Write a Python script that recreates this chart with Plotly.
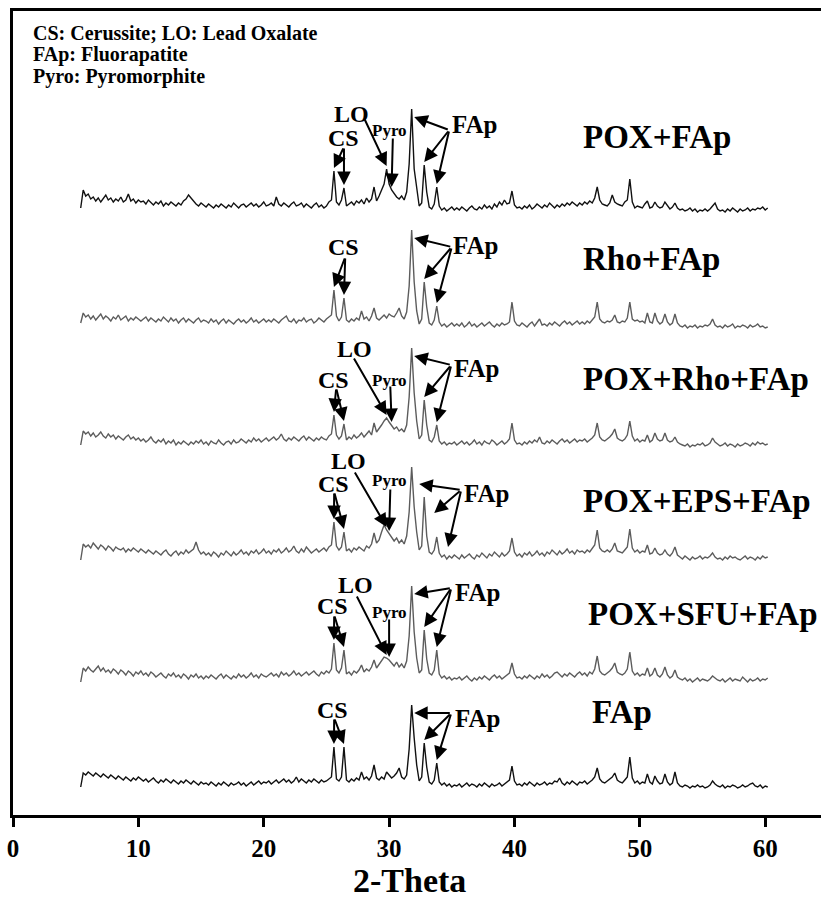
import numpy as np
import plotly.graph_objects as go

# ---------------- data (2-theta grid start/step and intensities) -------------
THETA_START = 5.4
THETA_STEP = 0.2

pox_fap = [
    6, 24, 18, 20, 15, 17, 13, 16, 12, 15, 19, 14, 16, 12, 15, 13, 17, 12, 14, 20, 13, 15, 11, 14, 12,
    13, 10, 14, 11, 9, 12, 10, 13, 8, 11, 9, 12, 10, 8, 11, 9, 13, 15, 19, 16, 12, 10, 8, 11, 9,
    7, 10, 8, 6, 9, 7, 10, 8, 6, 9, 7, 11, 8, 6, 9, 10, 7, 9, 11, 8, 10, 7, 9, 12, 8,
    9, 11, 8, 17, 10, 8, 11, 9, 7, 10, 12, 8, 9, 11, 7, 10, 8, 6, 9, 11, 7, 9, 6, 8, 12,
    14, 43, 12, 9, 14, 26, 8, 10, 12, 9, 13, 11, 14, 10, 16, 12, 15, 27, 13, 18, 24, 30, 45, 30, 24,
    20, 17, 15, 18, 14, 22, 50, 105, 45, 24, 8, 11, 49, 22, 7, 5, 10, 27, 8, 4, 6, 3, 5, 7, 4,
    6, 4, 7, 5, 3, 6, 8, 5, 4, 7, 5, 9, 6, 8, 5, 10, 7, 12, 9, 14, 10, 11, 23, 9, 6,
    7, 5, 8, 6, 9, 5, 7, 10, 8, 6, 9, 7, 11, 8, 6, 9, 7, 10, 8, 11, 9, 12, 10, 8, 11,
    9, 12, 10, 13, 11, 16, 27, 14, 10, 9, 8, 11, 19, 12, 10, 9, 8, 12, 14, 35, 12, 6, 8, 7, 6,
    10, 13, 6, 7, 12, 8, 6, 7, 12, 8, 5, 7, 11, 6, 4, 5, 3, 4, 6, 3, 5, 2, 4, 3, 5,
    3, 5, 8, 11, 5, 3, 4, 2, 5, 3, 6, 4, 2, 5, 3, 4, 6, 3, 5, 4, 6, 5, 7, 4, 6,
]
rho_fap = [
    8, 18, 14, 16, 12, 15, 11, 14, 17, 12, 15, 13, 10, 14, 12, 16, 11, 13, 15, 10, 13, 11, 14, 12, 10,
    12, 14, 10, 13, 11, 9, 12, 10, 14, 11, 9, 13, 10, 12, 8, 11, 13, 9, 12, 10, 8, 11, 13, 9, 11,
    10, 8, 12, 9, 11, 7, 10, 12, 8, 11, 9, 7, 10, 12, 9, 11, 8, 10, 13, 9, 11, 8, 10, 12, 9,
    11, 9, 12, 10, 8, 11, 13, 15, 10, 9, 12, 8, 11, 10, 13, 9, 11, 12, 8, 10, 13, 11, 9, 12, 14,
    16, 41, 15, 10, 14, 33, 11, 9, 12, 10, 13, 11, 20, 12, 14, 10, 15, 23, 13, 11, 14, 16, 13, 17, 15,
    14, 18, 23, 15, 12, 19, 45, 101, 49, 20, 7, 12, 49, 24, 8, 6, 11, 25, 9, 5, 7, 4, 6, 8, 5,
    7, 5, 8, 4, 6, 9, 5, 7, 4, 6, 8, 5, 7, 9, 6, 4, 7, 5, 8, 6, 7, 9, 29, 10, 6,
    5, 8, 6, 4, 7, 9, 5, 8, 12, 6, 7, 5, 8, 6, 9, 7, 5, 8, 10, 7, 9, 6, 8, 10, 7,
    9, 7, 10, 8, 11, 14, 29, 12, 9, 8, 10, 9, 11, 16, 9, 8, 10, 9, 13, 29, 12, 10, 11, 9, 10,
    8, 18, 9, 8, 18, 10, 7, 9, 17, 9, 6, 8, 17, 8, 5, 4, 6, 3, 5, 4, 6, 3, 5, 4, 6,
    5, 7, 12, 6, 4, 5, 3, 6, 4, 5, 7, 3, 5, 4, 6, 5, 3, 6, 4, 5, 7, 4, 5, 3, 4,
]
pox_rho_fap = [
    4, 18, 15, 17, 13, 16, 12, 14, 17, 13, 11, 15, 12, 14, 10, 13, 11, 9, 12, 14, 10, 12, 9, 11, 8,
    10, 7, 9, 12, 8, 6, 9, 7, 10, 5, 8, 6, 9, 4, 7, 5, 8, 6, 4, 7, 5, 8, 6, 9, 5,
    7, 4, 8, 6, 5, 9, 6, 4, 7, 8, 5, 9, 6, 7, 10, 8, 6, 9, 7, 11, 8, 10, 7, 9, 11,
    8, 10, 12, 9, 11, 15, 10, 8, 11, 9, 12, 10, 8, 11, 13, 9, 12, 10, 8, 11, 9, 12, 10, 9, 13,
    15, 34, 14, 10, 13, 25, 9, 12, 10, 14, 11, 13, 16, 12, 15, 18, 14, 26, 17, 20, 24, 28, 31, 27, 24,
    20, 22, 18, 20, 17, 24, 52, 101, 56, 28, 10, 14, 49, 24, 9, 7, 12, 24, 8, 5, 7, 4, 6, 5, 7,
    4, 6, 8, 5, 7, 4, 6, 9, 5, 7, 4, 8, 6, 5, 9, 7, 4, 6, 8, 5, 7, 10, 26, 9, 5,
    6, 4, 7, 5, 8, 6, 9, 7, 12, 6, 5, 8, 6, 9, 7, 5, 8, 10, 7, 9, 6, 8, 10, 7, 9,
    8, 10, 7, 9, 11, 14, 26, 12, 9, 8, 10, 12, 15, 20, 11, 9, 8, 10, 14, 28, 13, 8, 10, 7, 9,
    8, 14, 7, 9, 16, 10, 8, 9, 16, 9, 7, 8, 12, 7, 5, 4, 3, 5, 2, 4, 3, 5, 4, 6, 3,
    4, 6, 11, 7, 5, 3, 4, 6, 3, 5, 4, 2, 5, 3, 4, 6, 5, 3, 6, 4, 7, 5, 6, 4, 5,
]
pox_eps_fap = [
    2, 18, 15, 17, 14, 19, 16, 13, 17, 15, 12, 16, 14, 11, 15, 13, 12, 14, 10, 13, 11, 14, 12, 10, 13,
    11, 9, 12, 10, 8, 11, 9, 7, 10, 12, 8, 6, 9, 11, 7, 10, 8, 12, 9, 11, 13, 20, 12, 8, 10,
    7, 9, 6, 10, 8, 5, 9, 7, 11, 8, 6, 10, 7, 9, 12, 8, 10, 7, 11, 9, 12, 8, 10, 13, 9,
    11, 8, 12, 10, 13, 9, 11, 14, 10, 12, 16, 11, 9, 13, 10, 15, 12, 9, 11, 13, 10, 12, 14, 11, 15,
    17, 40, 16, 12, 15, 30, 11, 13, 10, 14, 12, 15, 13, 11, 16, 14, 18, 29, 19, 22, 30, 37, 32, 28, 25,
    21, 24, 19, 22, 18, 26, 50, 95, 55, 30, 12, 16, 65, 26, 10, 8, 12, 25, 9, 5, 7, 3, 6, 4, 7,
    5, 3, 7, 4, 6, 8, 5, 3, 7, 5, 9, 6, 4, 8, 6, 10, 7, 5, 9, 6, 8, 11, 24, 10, 6,
    8, 5, 9, 7, 10, 6, 8, 11, 7, 9, 6, 10, 8, 12, 9, 7, 11, 8, 10, 13, 9, 11, 8, 12, 10,
    11, 9, 12, 10, 13, 17, 32, 14, 11, 10, 12, 10, 13, 19, 11, 10, 9, 12, 15, 33, 14, 10, 12, 9, 11,
    10, 17, 8, 9, 14, 9, 7, 8, 12, 8, 6, 9, 15, 7, 5, 3, 6, 4, 2, 5, 3, 4, 6, 3, 5,
    4, 6, 9, 5, 3, 4, 2, 5, 3, 6, 4, 5, 3, 2, 4, 6, 3, 5, 4, 2, 5, 3, 6, 4, 5,
]
pox_sfu_fap = [
    2, 16, 13, 17, 14, 12, 15, 18, 13, 16, 12, 14, 11, 15, 13, 10, 14, 12, 9, 13, 11, 8, 12, 10, 13,
    9, 11, 8, 12, 10, 7, 9, 11, 8, 6, 10, 8, 11, 7, 9, 6, 10, 8, 5, 9, 7, 10, 6, 8, 5,
    8, 6, 9, 7, 5, 8, 10, 6, 9, 7, 5, 8, 6, 10, 7, 9, 6, 8, 11, 7, 9, 6, 10, 8, 7,
    9, 11, 8, 10, 7, 12, 9, 11, 8, 10, 13, 9, 11, 8, 10, 12, 9, 11, 13, 10, 8, 12, 10, 13, 11,
    15, 41, 14, 11, 16, 34, 10, 12, 9, 13, 11, 14, 19, 12, 15, 13, 17, 24, 16, 20, 23, 27, 26, 24, 21,
    18, 22, 17, 20, 16, 23, 48, 98, 52, 26, 11, 14, 54, 25, 11, 9, 14, 34, 10, 6, 8, 5, 7, 4, 6,
    5, 7, 4, 6, 8, 5, 3, 6, 4, 7, 5, 8, 6, 4, 7, 9, 6, 8, 5, 7, 9, 11, 21, 10, 6,
    7, 5, 8, 6, 9, 7, 5, 8, 6, 10, 7, 9, 6, 8, 11, 12, 9, 7, 10, 8, 11, 9, 7, 10, 12,
    9, 11, 8, 12, 10, 15, 28, 13, 10, 9, 11, 13, 16, 21, 12, 10, 9, 11, 15, 32, 13, 9, 11, 8, 10,
    9, 16, 8, 10, 16, 9, 7, 10, 17, 9, 6, 8, 14, 7, 5, 4, 6, 3, 5, 2, 4, 6, 3, 5, 4,
    3, 5, 8, 6, 4, 3, 5, 2, 4, 6, 3, 5, 4, 3, 7, 4, 2, 5, 3, 4, 6, 3, 5, 4, 6,
]
fap = [
    2, 16, 14, 17, 15, 13, 16, 14, 12, 15, 13, 11, 14, 12, 10, 13, 11, 9, 12, 10, 8, 11, 9, 12, 10,
    8, 10, 7, 9, 11, 8, 6, 9, 7, 10, 8, 6, 9, 7, 5, 8, 6, 9, 7, 5, 8, 6, 4, 7, 5,
    6, 4, 7, 5, 3, 6, 4, 7, 5, 3, 6, 4, 5, 7, 4, 6, 3, 5, 7, 4, 6, 8, 5, 7, 6,
    8, 5, 7, 9, 6, 8, 10, 7, 9, 6, 8, 12, 7, 10, 8, 6, 9, 7, 10, 8, 6, 9, 7, 8, 10,
    12, 42, 10, 8, 12, 42, 9, 7, 10, 8, 11, 9, 17, 10, 12, 9, 13, 24, 11, 9, 12, 10, 17, 14, 11,
    13, 16, 21, 12, 10, 14, 40, 84, 51, 24, 8, 12, 46, 22, 7, 5, 9, 26, 7, 4, 6, 3, 5, 2, 4,
    3, 5, 2, 4, 6, 3, 5, 4, 2, 5, 3, 6, 4, 2, 5, 3, 4, 6, 3, 5, 7, 9, 23, 8, 4,
    5, 3, 6, 4, 7, 5, 3, 6, 4, 5, 7, 4, 6, 5, 8, 7, 11, 6, 4, 7, 5, 8, 6, 4, 7,
    6, 8, 5, 7, 9, 12, 21, 10, 7, 6, 8, 10, 12, 16, 9, 7, 6, 9, 12, 32, 11, 6, 8, 5, 7,
    6, 15, 7, 5, 13, 8, 5, 6, 15, 7, 4, 6, 17, 6, 3, 2, 4, 3, 1, 3, 2, 4, 2, 3, 1,
    2, 4, 8, 5, 3, 2, 4, 1, 3, 2, 4, 3, 1, 2, 4, 2, 3, 5, 6, 3, 2, 4, 1, 3, 2,
]

sample_names = ["POX+FAp", "Rho+FAp", "POX+Rho+FAp", "POX+EPS+FAp", "POX+SFU+FAp", "FAp"]
tick_values = [0, 10, 20, 30, 40, 50, 60]
legend_lines = ["CS: Cerussite; LO: Lead Oxalate", "FAp: Fluorapatite", "Pyro: Pyromorphite"]

# ---------------- layout / style ----------------
series = [pox_fap, rho_fap, pox_rho_fap, pox_eps_fap, pox_sfu_fap, fap]
two_theta = THETA_START + THETA_STEP * np.arange(len(pox_fap))
offsets = [601, 484, 366, 253, 131, 26]
colors = ["#111111", "#5c5c5c", "#5c5c5c", "#5c5c5c", "#5c5c5c", "#111111"]
FONT = "Liberation Serif"

fig = go.Figure()
for name, vals, off, col in zip(sample_names, series, offsets, colors):
    fig.add_trace(go.Scatter(x=two_theta, y=np.asarray(vals) + off, mode="lines",
                             line=dict(color=col, width=1.4), name=name, showlegend=False))

annotations = []

def txt(text, x, y, size, xanchor="center", xref="x", yref="y"):
    annotations.append(dict(text=text, x=x, y=y, xref=xref, yref=yref, showarrow=False,
                            xanchor=xanchor, yanchor="middle", borderpad=0,
                            font=dict(family=FONT, size=size, color="black", weight="bold")))

def top(i, tt, half=0.11):
    vals = np.asarray(series[i])
    mask = np.abs(two_theta - tt) <= half
    return offsets[i] + vals[mask].max()

def arrow(i, tail, target):
    tx, tdy = tail
    kind, tt = target[0], target[1]
    if kind == "v":
        hx, hy = tt, top(i, tt) + 3
    elif kind == "main":
        hx, hy = tt + 0.2, top(i, tt) - 8
    else:
        hx, hy = tt, offsets[i] + target[2]
    annotations.append(dict(text="", x=hx, y=hy, ax=tx, ay=offsets[i] + tdy,
                            xref="x", yref="y", axref="x", ayref="y", showarrow=True,
                            arrowhead=2, arrowsize=1.35, arrowwidth=2.0, arrowcolor="black"))

# sample labels (left x, y relative to trace)
sample_pos = [(45.4, 77), (45.4, 72), (45.4, 70), (45.4, 61), (45.8, 70), (46.1, 77)]
for i, (name, (lx, ldy)) in enumerate(zip(sample_names, sample_pos)):
    txt(name, lx, offsets[i] + ldy, 33, xanchor="left")

# peak labels and arrows per trace
peak_labels = {
    0: [("CS", 26.4, 76, 24), ("LO", 27.0, 100, 24), ("Pyro", 30.0, 84, 17), ("FAp", 36.8, 90, 25)],
    1: [("CS", 26.4, 84, 24), ("FAp", 36.9, 86, 25)],
    2: [("LO", 27.2, 100, 24), ("CS", 25.6, 69, 24), ("Pyro", 30.0, 69, 17), ("FAp", 36.95, 81, 25)],
    3: [("LO", 26.8, 101, 24), ("CS", 25.6, 78, 24), ("Pyro", 30.0, 82, 17), ("FAp", 37.75, 69, 25)],
    4: [("LO", 27.3, 99, 24), ("CS", 25.46, 78, 24), ("Pyro", 30.0, 72, 17), ("FAp", 37.03, 92, 25)],
    5: [("CS", 25.46, 79, 24), ("FAp", 37.03, 71, 25)],
}
FAP3 = [("main", 31.8), ("v", 32.8), ("v", 33.8)]
CS2 = [("v", 25.6), ("v", 26.4)]
peak_arrows = {
    0: [((26.4, 67), CS2), ((28.0, 96), [("v", 29.8)]), ((30.3, 77), [("v", 30.2)]), ((34.8, 84), FAP3)],
    1: [((26.5, 74), CS2), ((35.0, 84), FAP3)],
    2: [((25.78, 61), CS2), ((27.13, 92), [("v", 29.8)]), ((30.09, 64), [("v", 30.2)]), ((34.96, 84), FAP3)],
    3: [((25.62, 70), CS2), ((27.2, 91), [("v", 29.8)]), ((30.1, 74), [("v", 30.0)]),
        ((35.75, 72), [("abs", 32.4, 78), ("abs", 33.6, 49), ("abs", 34.7, 15)])],
    4: [((25.62, 69), CS2), ((27.37, 89), [("v", 29.8)]), ((30.0, 66), [("v", 30.0)]), ((34.96, 96), FAP3)],
    5: [((25.62, 71), CS2), ((34.96, 76), FAP3)],
}
for i in range(6):
    for text, lx, ldy, size in peak_labels[i]:
        txt(text, lx, offsets[i] + ldy, size)
    for tail, targets in peak_arrows[i]:
        for t in targets:
            arrow(i, tail, t)

# legend text top-left
for k, line in enumerate(legend_lines):
    txt(line, 1.5, 782 - 21.5 * k, 20, xanchor="left")

# x-axis title
txt("2-Theta", 0.491, -0.081, 34, xref="paper", yref="paper")

fig.update_layout(
    width=821, height=899,
    margin=dict(l=13, r=0, t=11, b=84),
    paper_bgcolor="white", plot_bgcolor="white",
    annotations=annotations,
    xaxis=dict(range=[0, 64.45], tickvals=tick_values, ticks="outside", ticklen=9, tickwidth=3,
               tickcolor="black", showline=True, linewidth=3, linecolor="black", mirror=True,
               showgrid=False, zeroline=False,
               tickfont=dict(family=FONT, size=25, color="black", weight="bold")),
    yaxis=dict(range=[0, 804], showticklabels=False, ticks="", showline=True, linewidth=3,
               linecolor="black", showgrid=False, zeroline=False),
)

fig.write_html("out.html")
